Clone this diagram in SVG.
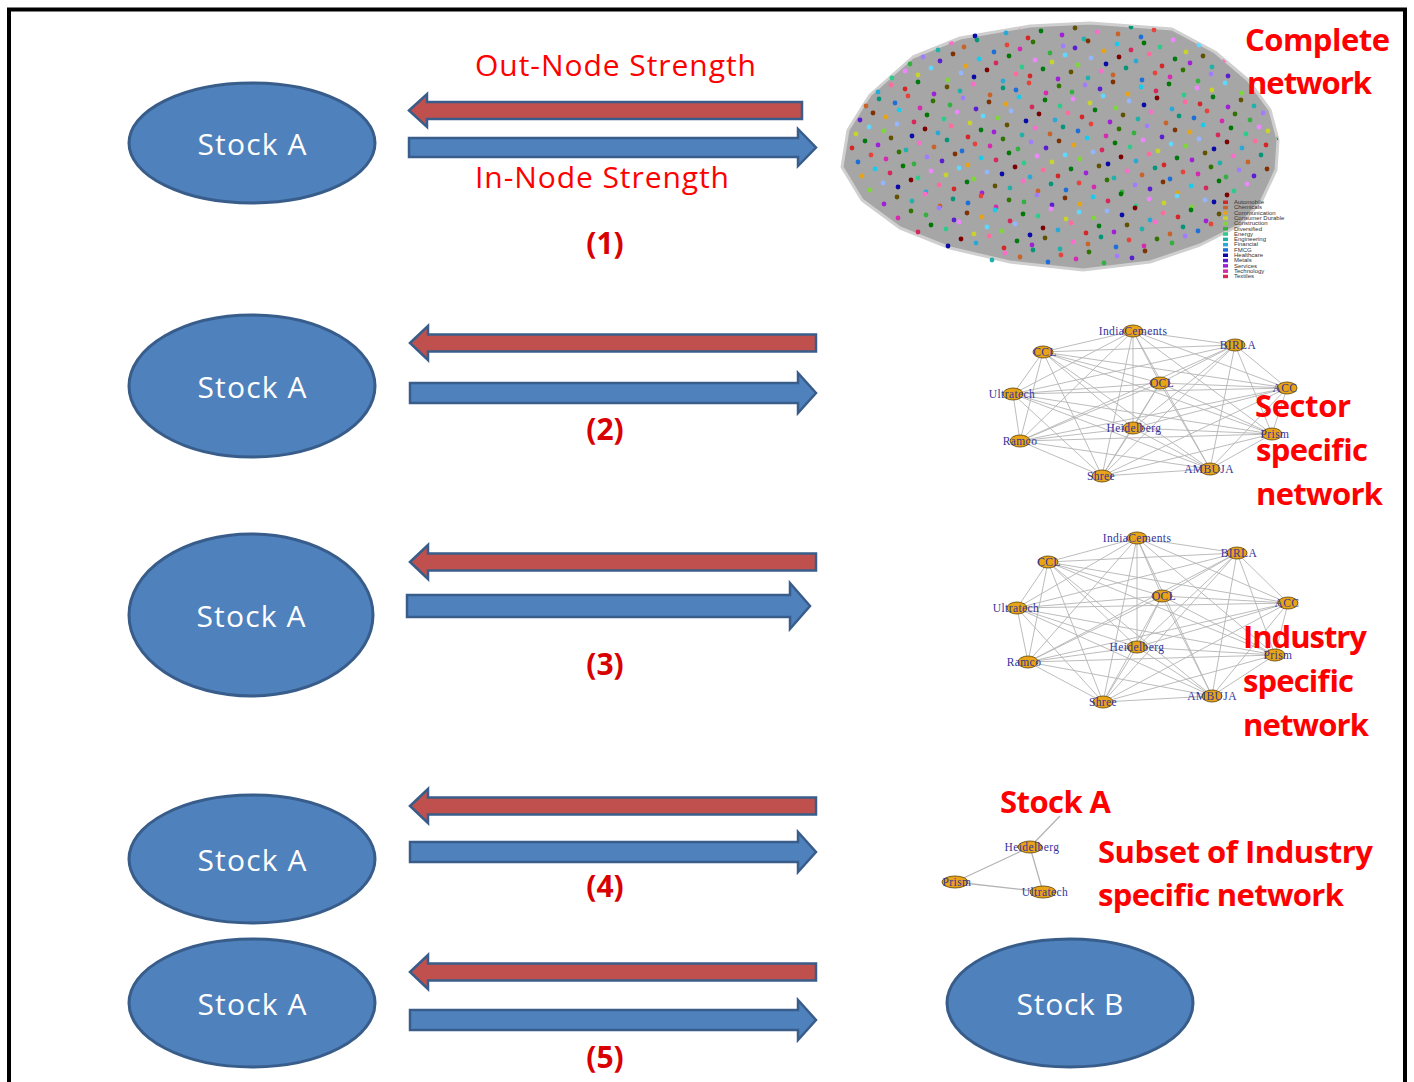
<svg xmlns="http://www.w3.org/2000/svg" width="1414" height="1082" viewBox="0 0 1414 1082">
<style>
.ell{fill:#4f81bd;stroke:#385d8a;stroke-width:3}
.st{font-family:"Open Sans","Liberation Sans",sans-serif;font-size:30px;fill:#ffffff;text-anchor:middle}
.lbl{font-family:"Open Sans","Liberation Sans",sans-serif;font-size:30px;fill:#ff0000}
.big{font-family:"Open Sans","Liberation Sans",sans-serif;font-size:31px;font-weight:bold;fill:#ff0000}
.num{font-family:"Open Sans","Liberation Sans",sans-serif;font-size:30px;font-weight:bold;fill:#d80000;text-anchor:middle}
.ra{fill:#c0504d;stroke:#385d8a;stroke-width:2.5;stroke-linejoin:miter}
.ba{fill:#4f81bd;stroke:#385d8a;stroke-width:2.5;stroke-linejoin:miter}
.edge{fill:none;stroke:#b4b4b4;stroke-width:0.9}
.nd{fill:#e8a317;stroke:#5a4000;stroke-width:0.8}
.nl{font-family:"Liberation Serif","DejaVu Serif",serif;font-size:11.5px;fill:#34349c;text-anchor:middle;letter-spacing:0.4px}
.lg{font-family:"Liberation Sans",sans-serif;font-size:6px;fill:#333}
.k0{fill:#d62728}.k1{fill:#c8642a}.k2{fill:#e8a317}.k3{fill:#c8d42a}.k4{fill:#7fd63a}
.k5{fill:#34b043}.k6{fill:#2ecc8a}.k7{fill:#20b2aa}.k8{fill:#29a9d6}.k9{fill:#1e6fd9}
.k10{fill:#0a0aa8}.k11{fill:#5b1fd1}.k12{fill:#a020d8}.k13{fill:#d62ab0}.k14{fill:#d6285a}
</style>
<defs>
<clipPath id="netclip"><polygon points="1090,23 1172,29 1215,52 1248,80 1270,110 1278,140 1276,170 1262,200 1240,225 1200,245 1150,262 1083,270 1010,262 950,248 900,228 862,200 842,167 848,130 870,95 913,57 960,38 1030,26"/></clipPath>
</defs>

<rect x="9" y="9.5" width="1396" height="1090" fill="#ffffff" stroke="#000000" stroke-width="4"/>

<!-- Stock nodes -->
<g id="stockA1"><ellipse class="ell" cx="252" cy="143" rx="123" ry="60"/><text class="st" x="252" y="155" textLength="109">Stock A</text></g>
<g id="stockA2"><ellipse class="ell" cx="252" cy="386" rx="123" ry="71"/><text class="st" x="252" y="398" textLength="109">Stock A</text></g>
<g id="stockA3"><ellipse class="ell" cx="251" cy="615" rx="122" ry="81"/><text class="st" x="251" y="627" textLength="109">Stock A</text></g>
<g id="stockA4"><ellipse class="ell" cx="252" cy="859" rx="123" ry="64"/><text class="st" x="252" y="871" textLength="109">Stock A</text></g>
<g id="stockA5"><ellipse class="ell" cx="252" cy="1003" rx="123" ry="64"/><text class="st" x="252" y="1015" textLength="109">Stock A</text></g>
<g id="stockB"><ellipse class="ell" cx="1070" cy="1003" rx="123" ry="64"/><text class="st" x="1070" y="1015" textLength="107">Stock B</text></g>

<!-- Connectors (arrows) -->
<g id="connectors">
<path class="ra" d="M409 110.5L427 94L427 102L802 102L802 119L427 119L427 127Z"/>
<path class="ba" d="M409 138L798 138L798 129L816 147.5L798 166L798 157L409 157Z"/>
<path class="ra" d="M410 343L428 326L428 334.5L816 334.5L816 351.5L428 351.5L428 360Z"/>
<path class="ba" d="M410 383L798 383L798 373L816 393L798 413L798 403L410 403Z"/>
<path class="ra" d="M410 562L428 545L428 553.5L816 553.5L816 570.5L428 570.5L428 579Z"/>
<path class="ba" d="M407 595L790 595L790 583L810 606L790 629L790 617L407 617Z"/>
<path class="ra" d="M410 806L428 789L428 797.5L816 797.5L816 814.5L428 814.5L428 823Z"/>
<path class="ba" d="M410 842L798 842L798 832L816 852L798 872L798 862L410 862Z"/>
<path class="ra" d="M410 972L428 955L428 963.5L816 963.5L816 980.5L428 980.5L428 989Z"/>
<path class="ba" d="M410 1010L798 1010L798 1000L816 1020L798 1040L798 1030L410 1030Z"/>
</g>

<!-- Labels -->
<g id="labels">
<text class="lbl" x="475" y="76" textLength="281">Out-Node Strength</text>
<text class="lbl" x="475" y="188" textLength="254">In-Node Strength</text>
<text class="num" x="605" y="254">(1)</text>
<text class="num" x="605" y="440">(2)</text>
<text class="num" x="605" y="675">(3)</text>
<text class="num" x="605" y="897">(4)</text>
<text class="num" x="605" y="1068">(5)</text>
</g>

<!-- Complete network -->
<g id="completeNetwork">
<polygon points="1090,23 1172,29 1215,52 1248,80 1270,110 1278,140 1276,170 1262,200 1240,225 1200,245 1150,262 1083,270 1010,262 950,248 900,228 862,200 842,167 848,130 870,95 913,57 960,38 1030,26" fill="#a6a6a6" stroke="#cfcfcf" stroke-width="3" stroke-linejoin="round"/>
<g id="dots">
<circle class="k10" cx="975" cy="36" r="2.4"/><circle class="k8" cx="1006" cy="33" r="2.4"/><circle class="k0" cx="1028" cy="38" r="2.4"/><circle class="k12" cx="1062" cy="35" r="2.4"/><circle class="k7" cx="1084" cy="39" r="2.4"/><circle class="k1" cx="1118" cy="34" r="2.4"/><circle class="k9" cx="1141" cy="37" r="2.4"/>
<circle class="k7" cx="938" cy="50" r="2.4"/><circle class="k1" cx="964" cy="47" r="2.4"/><circle class="k9" cx="994" cy="52" r="2.4"/><circle class="k13" cx="1020" cy="49" r="2.4"/><circle class="k5" cx="1050" cy="53" r="2.4"/><circle class="k11" cx="1075" cy="48" r="2.4"/><circle class="k2" cx="1104" cy="51" r="2.4"/><circle class="k14" cx="1131" cy="50" r="2.4"/><circle class="k6" cx="1160" cy="47" r="2.4"/><circle class="k3" cx="1186" cy="52" r="2.4"/>
<circle class="k5" cx="910" cy="64" r="2.4"/><circle class="k11" cx="940" cy="61" r="2.4"/><circle class="k2" cx="966" cy="66" r="2.4"/><circle class="k14" cx="996" cy="63" r="2.4"/><circle class="k6" cx="1022" cy="67" r="2.4"/><circle class="k3" cx="1052" cy="62" r="2.4"/><circle class="k4" cx="1078" cy="65" r="2.4"/><circle class="k10" cx="1106" cy="64" r="2.4"/><circle class="k8" cx="1136" cy="61" r="2.4"/><circle class="k0" cx="1162" cy="66" r="2.4"/><circle class="k12" cx="1190" cy="63" r="2.4"/><circle class="k7" cx="1212" cy="67" r="2.4"/>
<circle class="k6" cx="892" cy="78" r="2.4"/><circle class="k3" cx="918" cy="75" r="2.4"/><circle class="k4" cx="948" cy="80" r="2.4"/><circle class="k10" cx="974" cy="77" r="2.4"/><circle class="k8" cx="1003" cy="81" r="2.4"/><circle class="k0" cx="1030" cy="76" r="2.4"/><circle class="k12" cx="1058" cy="79" r="2.4"/><circle class="k7" cx="1088" cy="78" r="2.4"/><circle class="k1" cx="1113" cy="75" r="2.4"/><circle class="k9" cx="1142" cy="80" r="2.4"/><circle class="k13" cx="1170" cy="77" r="2.4"/><circle class="k5" cx="1198" cy="81" r="2.4"/><circle class="k11" cx="1228" cy="76" r="2.4"/>
<circle class="k8" cx="878" cy="92" r="2.4"/><circle class="k0" cx="905" cy="89" r="2.4"/><circle class="k12" cx="934" cy="94" r="2.4"/><circle class="k7" cx="960" cy="91" r="2.4"/><circle class="k1" cx="990" cy="95" r="2.4"/><circle class="k9" cx="1016" cy="90" r="2.4"/><circle class="k13" cx="1046" cy="93" r="2.4"/><circle class="k5" cx="1072" cy="92" r="2.4"/><circle class="k11" cx="1100" cy="89" r="2.4"/><circle class="k2" cx="1128" cy="94" r="2.4"/><circle class="k14" cx="1156" cy="91" r="2.4"/><circle class="k6" cx="1184" cy="95" r="2.4"/><circle class="k3" cx="1212" cy="90" r="2.4"/><circle class="k4" cx="1242" cy="93" r="2.4"/>
<circle class="k1" cx="866" cy="106" r="2.4"/><circle class="k9" cx="895" cy="103" r="2.4"/><circle class="k13" cx="920" cy="108" r="2.4"/><circle class="k5" cx="950" cy="105" r="2.4"/><circle class="k11" cx="976" cy="109" r="2.4"/><circle class="k2" cx="1006" cy="104" r="2.4"/><circle class="k14" cx="1032" cy="107" r="2.4"/><circle class="k6" cx="1060" cy="106" r="2.4"/><circle class="k3" cx="1090" cy="103" r="2.4"/><circle class="k4" cx="1116" cy="108" r="2.4"/><circle class="k10" cx="1144" cy="105" r="2.4"/><circle class="k8" cx="1172" cy="109" r="2.4"/><circle class="k0" cx="1200" cy="104" r="2.4"/><circle class="k12" cx="1228" cy="107" r="2.4"/><circle class="k7" cx="1254" cy="106" r="2.4"/>
<circle class="k11" cx="860" cy="120" r="2.4"/><circle class="k2" cx="886" cy="117" r="2.4"/><circle class="k14" cx="914" cy="122" r="2.4"/><circle class="k6" cx="944" cy="119" r="2.4"/><circle class="k3" cx="970" cy="123" r="2.4"/><circle class="k4" cx="998" cy="118" r="2.4"/><circle class="k10" cx="1026" cy="121" r="2.4"/><circle class="k8" cx="1055" cy="120" r="2.4"/><circle class="k0" cx="1082" cy="117" r="2.4"/><circle class="k12" cx="1110" cy="122" r="2.4"/><circle class="k7" cx="1138" cy="119" r="2.4"/><circle class="k1" cx="1166" cy="123" r="2.4"/><circle class="k9" cx="1194" cy="118" r="2.4"/><circle class="k13" cx="1222" cy="121" r="2.4"/><circle class="k5" cx="1250" cy="120" r="2.4"/>
<circle class="k3" cx="856" cy="134" r="2.4"/><circle class="k4" cx="884" cy="131" r="2.4"/><circle class="k10" cx="912" cy="136" r="2.4"/><circle class="k8" cx="938" cy="133" r="2.4"/><circle class="k0" cx="968" cy="137" r="2.4"/><circle class="k12" cx="994" cy="132" r="2.4"/><circle class="k7" cx="1022" cy="135" r="2.4"/><circle class="k1" cx="1050" cy="134" r="2.4"/><circle class="k9" cx="1078" cy="131" r="2.4"/><circle class="k13" cx="1106" cy="136" r="2.4"/><circle class="k5" cx="1134" cy="133" r="2.4"/><circle class="k11" cx="1162" cy="137" r="2.4"/><circle class="k2" cx="1190" cy="132" r="2.4"/><circle class="k14" cx="1218" cy="135" r="2.4"/><circle class="k6" cx="1246" cy="134" r="2.4"/><circle class="k3" cx="1268" cy="131" r="2.4"/>
<circle class="k0" cx="852" cy="148" r="2.4"/><circle class="k12" cx="878" cy="145" r="2.4"/><circle class="k7" cx="906" cy="150" r="2.4"/><circle class="k1" cx="934" cy="147" r="2.4"/><circle class="k9" cx="962" cy="151" r="2.4"/><circle class="k13" cx="990" cy="146" r="2.4"/><circle class="k5" cx="1018" cy="149" r="2.4"/><circle class="k11" cx="1046" cy="148" r="2.4"/><circle class="k2" cx="1074" cy="145" r="2.4"/><circle class="k14" cx="1102" cy="150" r="2.4"/><circle class="k6" cx="1130" cy="147" r="2.4"/><circle class="k3" cx="1158" cy="151" r="2.4"/><circle class="k4" cx="1186" cy="146" r="2.4"/><circle class="k10" cx="1214" cy="149" r="2.4"/><circle class="k8" cx="1242" cy="148" r="2.4"/><circle class="k0" cx="1266" cy="145" r="2.4"/>
<circle class="k9" cx="858" cy="162" r="2.4"/><circle class="k13" cx="886" cy="159" r="2.4"/><circle class="k5" cx="914" cy="164" r="2.4"/><circle class="k11" cx="942" cy="161" r="2.4"/><circle class="k2" cx="968" cy="165" r="2.4"/><circle class="k14" cx="996" cy="160" r="2.4"/><circle class="k6" cx="1024" cy="163" r="2.4"/><circle class="k3" cx="1052" cy="162" r="2.4"/><circle class="k4" cx="1080" cy="159" r="2.4"/><circle class="k10" cx="1108" cy="164" r="2.4"/><circle class="k8" cx="1136" cy="161" r="2.4"/><circle class="k0" cx="1164" cy="165" r="2.4"/><circle class="k12" cx="1192" cy="160" r="2.4"/><circle class="k7" cx="1220" cy="163" r="2.4"/><circle class="k1" cx="1248" cy="162" r="2.4"/>
<circle class="k2" cx="862" cy="176" r="2.4"/><circle class="k14" cx="890" cy="173" r="2.4"/><circle class="k6" cx="918" cy="178" r="2.4"/><circle class="k3" cx="946" cy="175" r="2.4"/><circle class="k4" cx="974" cy="179" r="2.4"/><circle class="k10" cx="1002" cy="174" r="2.4"/><circle class="k8" cx="1030" cy="177" r="2.4"/><circle class="k0" cx="1058" cy="176" r="2.4"/><circle class="k12" cx="1086" cy="173" r="2.4"/><circle class="k7" cx="1114" cy="178" r="2.4"/><circle class="k1" cx="1142" cy="175" r="2.4"/><circle class="k9" cx="1170" cy="179" r="2.4"/><circle class="k13" cx="1198" cy="174" r="2.4"/><circle class="k5" cx="1226" cy="177" r="2.4"/><circle class="k11" cx="1254" cy="176" r="2.4"/>
<circle class="k4" cx="870" cy="190" r="2.4"/><circle class="k10" cx="898" cy="187" r="2.4"/><circle class="k8" cx="926" cy="192" r="2.4"/><circle class="k0" cx="954" cy="189" r="2.4"/><circle class="k12" cx="982" cy="193" r="2.4"/><circle class="k7" cx="1010" cy="188" r="2.4"/><circle class="k1" cx="1038" cy="191" r="2.4"/><circle class="k9" cx="1066" cy="190" r="2.4"/><circle class="k13" cx="1094" cy="187" r="2.4"/><circle class="k5" cx="1122" cy="192" r="2.4"/><circle class="k11" cx="1150" cy="189" r="2.4"/><circle class="k2" cx="1178" cy="193" r="2.4"/><circle class="k14" cx="1206" cy="188" r="2.4"/><circle class="k6" cx="1234" cy="191" r="2.4"/>
<circle class="k12" cx="884" cy="204" r="2.4"/><circle class="k7" cx="912" cy="201" r="2.4"/><circle class="k1" cx="940" cy="206" r="2.4"/><circle class="k9" cx="968" cy="203" r="2.4"/><circle class="k13" cx="996" cy="207" r="2.4"/><circle class="k5" cx="1024" cy="202" r="2.4"/><circle class="k11" cx="1052" cy="205" r="2.4"/><circle class="k2" cx="1080" cy="204" r="2.4"/><circle class="k14" cx="1108" cy="201" r="2.4"/><circle class="k6" cx="1136" cy="206" r="2.4"/><circle class="k3" cx="1164" cy="203" r="2.4"/><circle class="k4" cx="1192" cy="207" r="2.4"/><circle class="k10" cx="1214" cy="202" r="2.4"/>
<circle class="k13" cx="898" cy="218" r="2.4"/><circle class="k5" cx="926" cy="215" r="2.4"/><circle class="k11" cx="954" cy="220" r="2.4"/><circle class="k2" cx="982" cy="217" r="2.4"/><circle class="k14" cx="1010" cy="221" r="2.4"/><circle class="k6" cx="1038" cy="216" r="2.4"/><circle class="k3" cx="1066" cy="219" r="2.4"/><circle class="k4" cx="1094" cy="218" r="2.4"/><circle class="k10" cx="1122" cy="215" r="2.4"/><circle class="k8" cx="1150" cy="220" r="2.4"/><circle class="k0" cx="1178" cy="217" r="2.4"/><circle class="k12" cx="1206" cy="221" r="2.4"/>
<circle class="k14" cx="918" cy="232" r="2.4"/><circle class="k6" cx="946" cy="229" r="2.4"/><circle class="k3" cx="974" cy="234" r="2.4"/><circle class="k4" cx="1002" cy="231" r="2.4"/><circle class="k10" cx="1030" cy="235" r="2.4"/><circle class="k8" cx="1058" cy="230" r="2.4"/><circle class="k0" cx="1086" cy="233" r="2.4"/><circle class="k12" cx="1114" cy="232" r="2.4"/><circle class="k7" cx="1142" cy="229" r="2.4"/><circle class="k1" cx="1170" cy="234" r="2.4"/><circle class="k9" cx="1198" cy="231" r="2.4"/>
<circle class="k10" cx="948" cy="246" r="2.4"/><circle class="k8" cx="976" cy="243" r="2.4"/><circle class="k0" cx="1004" cy="248" r="2.4"/><circle class="k12" cx="1032" cy="245" r="2.4"/><circle class="k7" cx="1060" cy="249" r="2.4"/><circle class="k1" cx="1088" cy="244" r="2.4"/><circle class="k9" cx="1116" cy="247" r="2.4"/><circle class="k13" cx="1144" cy="246" r="2.4"/><circle class="k5" cx="1172" cy="243" r="2.4"/>
<circle class="k7" cx="992" cy="260" r="2.4"/><circle class="k1" cx="1020" cy="257" r="2.4"/><circle class="k9" cx="1048" cy="262" r="2.4"/><circle class="k13" cx="1076" cy="259" r="2.4"/><circle class="k5" cx="1104" cy="263" r="2.4"/><circle class="k11" cx="1132" cy="258" r="2.4"/>
</g>
<g clip-path="url(#netclip)"><use href="#dots" transform="translate(13,-7)" style="filter:hue-rotate(140deg)"/></g>
<g id="legend">
<rect class="k0" x="1223" y="200.5" width="5" height="3.5"/><text class="lg" x="1234" y="204">Automobile</text>
<rect class="k1" x="1223" y="205.8" width="5" height="3.5"/><text class="lg" x="1234" y="209.3">Chemicals</text>
<rect class="k2" x="1223" y="211.1" width="5" height="3.5"/><text class="lg" x="1234" y="214.6">Communication</text>
<rect class="k3" x="1223" y="216.4" width="5" height="3.5"/><text class="lg" x="1234" y="219.9">Consumer Durable</text>
<rect class="k4" x="1223" y="221.7" width="5" height="3.5"/><text class="lg" x="1234" y="225.2">Construction</text>
<rect class="k5" x="1223" y="227" width="5" height="3.5"/><text class="lg" x="1234" y="230.5">Diversified</text>
<rect class="k6" x="1223" y="232.3" width="5" height="3.5"/><text class="lg" x="1234" y="235.8">Energy</text>
<rect class="k7" x="1223" y="237.6" width="5" height="3.5"/><text class="lg" x="1234" y="241.1">Engineering</text>
<rect class="k8" x="1223" y="242.9" width="5" height="3.5"/><text class="lg" x="1234" y="246.4">Financial</text>
<rect class="k9" x="1223" y="248.2" width="5" height="3.5"/><text class="lg" x="1234" y="251.7">FMCG</text>
<rect class="k10" x="1223" y="253.5" width="5" height="3.5"/><text class="lg" x="1234" y="257">Healthcare</text>
<rect class="k11" x="1223" y="258.8" width="5" height="3.5"/><text class="lg" x="1234" y="262.3">Metals</text>
<rect class="k12" x="1223" y="264.1" width="5" height="3.5"/><text class="lg" x="1234" y="267.6">Services</text>
<rect class="k13" x="1223" y="269.4" width="5" height="3.5"/><text class="lg" x="1234" y="272.9">Technology</text>
<rect class="k14" x="1223" y="274.7" width="5" height="3.5"/><text class="lg" x="1234" y="278.2">Textiles</text>
</g>
<text class="big" x="1245" y="51" textLength="145">Complete</text>
<text class="big" x="1247" y="94" textLength="125">network</text>
</g>

<!-- Sector specific network -->
<g id="sectorNetwork">
<path class="edge" d="M1133 331L1043 352M1133 331L1235 345M1133 331L1160 383M1133 331L1287 388M1133 331L1013 394M1133 331L1133 428M1133 331L1272 434M1133 331L1020 441M1133 331L1102 476M1133 331L1210 469M1043 352L1235 345M1043 352L1160 383M1043 352L1287 388M1043 352L1013 394M1043 352L1133 428M1043 352L1272 434M1043 352L1020 441M1043 352L1102 476M1043 352L1210 469M1235 345L1160 383M1235 345L1287 388M1235 345L1013 394M1235 345L1133 428M1235 345L1272 434M1235 345L1020 441M1235 345L1102 476M1235 345L1210 469M1160 383L1287 388M1160 383L1013 394M1160 383L1133 428M1160 383L1272 434M1160 383L1020 441M1160 383L1102 476M1160 383L1210 469M1287 388L1013 394M1287 388L1133 428M1287 388L1272 434M1287 388L1020 441M1287 388L1102 476M1287 388L1210 469M1013 394L1133 428M1013 394L1272 434M1013 394L1020 441M1013 394L1102 476M1013 394L1210 469M1133 428L1272 434M1133 428L1020 441M1133 428L1102 476M1133 428L1210 469M1272 434L1020 441M1272 434L1102 476M1272 434L1210 469M1020 441L1102 476M1020 441L1210 469M1102 476L1210 469"/>
<ellipse class="nd" cx="1133" cy="331" rx="10" ry="6"/><ellipse class="nd" cx="1043" cy="352" rx="10" ry="6"/><ellipse class="nd" cx="1235" cy="345" rx="10" ry="6"/><ellipse class="nd" cx="1160" cy="383" rx="10" ry="6"/><ellipse class="nd" cx="1287" cy="388" rx="10" ry="6"/><ellipse class="nd" cx="1013" cy="394" rx="10" ry="6"/><ellipse class="nd" cx="1133" cy="428" rx="10" ry="6"/><ellipse class="nd" cx="1272" cy="434" rx="10" ry="6"/><ellipse class="nd" cx="1020" cy="441" rx="10" ry="6"/><ellipse class="nd" cx="1102" cy="476" rx="10" ry="6"/><ellipse class="nd" cx="1210" cy="469" rx="10" ry="6"/>
<text class="nl" x="1133" y="335">IndiaCements</text><text class="nl" x="1045" y="356">CCL</text><text class="nl" x="1238" y="349">BIRLA</text><text class="nl" x="1162" y="387">OCL</text><text class="nl" x="1285" y="392">ACC</text><text class="nl" x="1012" y="398">Ultratech</text><text class="nl" x="1134" y="432">Heidelberg</text><text class="nl" x="1275" y="438">Prism</text><text class="nl" x="1020" y="445">Ramco</text><text class="nl" x="1101" y="480">Shree</text><text class="nl" x="1209" y="473">AMBUJA</text>
<text class="big" x="1255" y="417" textLength="96">Sector</text>
<text class="big" x="1256" y="461" textLength="112">specific</text>
<text class="big" x="1256" y="505" textLength="127">network</text>
</g>

<!-- Industry specific network -->
<g id="industryNetwork">
<path class="edge" d="M1137 538L1048 562M1137 538L1237 553M1137 538L1162 596M1137 538L1288 603M1137 538L1017 608M1137 538L1137 647M1137 538L1275 655M1137 538L1028 662M1137 538L1103 702M1137 538L1212 696M1048 562L1237 553M1048 562L1162 596M1048 562L1288 603M1048 562L1017 608M1048 562L1137 647M1048 562L1275 655M1048 562L1028 662M1048 562L1103 702M1048 562L1212 696M1237 553L1162 596M1237 553L1288 603M1237 553L1017 608M1237 553L1137 647M1237 553L1275 655M1237 553L1028 662M1237 553L1103 702M1237 553L1212 696M1162 596L1288 603M1162 596L1017 608M1162 596L1137 647M1162 596L1275 655M1162 596L1028 662M1162 596L1103 702M1162 596L1212 696M1288 603L1017 608M1288 603L1137 647M1288 603L1275 655M1288 603L1028 662M1288 603L1103 702M1288 603L1212 696M1017 608L1137 647M1017 608L1275 655M1017 608L1028 662M1017 608L1103 702M1017 608L1212 696M1137 647L1275 655M1137 647L1028 662M1137 647L1103 702M1137 647L1212 696M1275 655L1028 662M1275 655L1103 702M1275 655L1212 696M1028 662L1103 702M1028 662L1212 696M1103 702L1212 696"/>
<ellipse class="nd" cx="1137" cy="538" rx="10" ry="6"/><ellipse class="nd" cx="1048" cy="562" rx="10" ry="6"/><ellipse class="nd" cx="1237" cy="553" rx="10" ry="6"/><ellipse class="nd" cx="1162" cy="596" rx="10" ry="6"/><ellipse class="nd" cx="1288" cy="603" rx="10" ry="6"/><ellipse class="nd" cx="1017" cy="608" rx="10" ry="6"/><ellipse class="nd" cx="1137" cy="647" rx="10" ry="6"/><ellipse class="nd" cx="1275" cy="655" rx="10" ry="6"/><ellipse class="nd" cx="1028" cy="662" rx="10" ry="6"/><ellipse class="nd" cx="1103" cy="702" rx="10" ry="6"/><ellipse class="nd" cx="1212" cy="696" rx="10" ry="6"/>
<text class="nl" x="1137" y="542">IndiaCements</text><text class="nl" x="1049" y="566">CCL</text><text class="nl" x="1239" y="557">BIRLA</text><text class="nl" x="1164" y="600">OCL</text><text class="nl" x="1287" y="607">ACC</text><text class="nl" x="1016" y="612">Ultratech</text><text class="nl" x="1137" y="651">Heidelberg</text><text class="nl" x="1278" y="659">Prism</text><text class="nl" x="1024" y="666">Ramco</text><text class="nl" x="1103" y="706">Shree</text><text class="nl" x="1212" y="700">AMBUJA</text>
<text class="big" x="1243" y="648" textLength="124">Industry</text>
<text class="big" x="1243" y="692" textLength="111">specific</text>
<text class="big" x="1243" y="736" textLength="126">network</text>
</g>

<!-- Subset network -->
<g id="subsetNetwork">
<path class="edge" d="M1030 847L1060 816M1030 847L955 882M1030 847L1043 892M955 882L1043 892" style="stroke-width:1.3"/>
<ellipse class="nd" cx="1030" cy="847" rx="12" ry="6"/><ellipse class="nd" cx="955" cy="882" rx="13" ry="6"/><ellipse class="nd" cx="1043" cy="892" rx="13" ry="6"/>
<text class="nl" x="1032" y="851">Heidelberg</text><text class="nl" x="957" y="886">Prism</text><text class="nl" x="1045" y="896">Ultratech</text>
<text class="big" x="1000" y="813" textLength="111">Stock A</text>
<text class="big" x="1098" y="863" textLength="275">Subset of Industry</text>
<text class="big" x="1098" y="906" textLength="246">specific network</text>
</g>
</svg>
